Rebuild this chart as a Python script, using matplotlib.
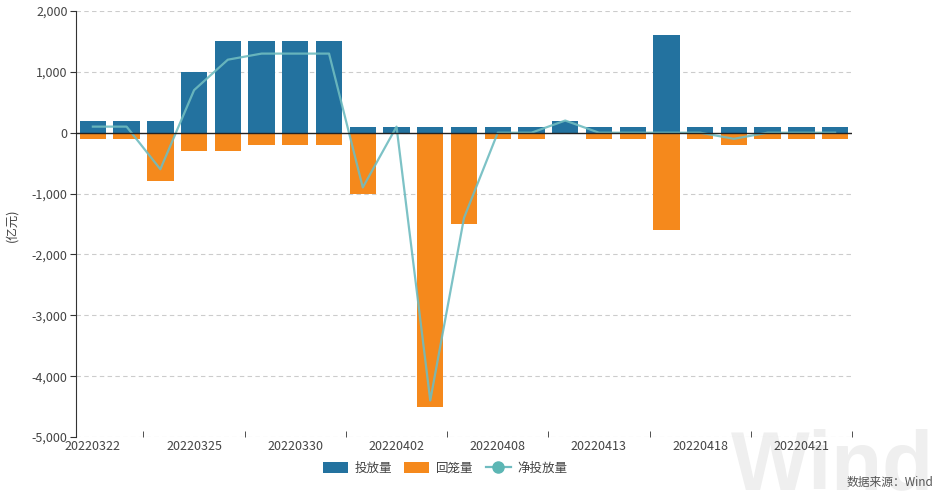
import matplotlib
matplotlib.use("Agg")
import matplotlib.pyplot as plt
import numpy as np
from matplotlib.lines import Line2D
from matplotlib.patches import Patch

plt.rcParams['font.family'] = ['Noto Sans CJK SC', 'DejaVu Sans']

dates = ["20220322", "20220323", "20220324", "20220325", "20220328", "20220329",
         "20220330", "20220331", "20220401", "20220402", "20220406", "20220407",
         "20220408", "20220411", "20220412", "20220413", "20220414", "20220415",
         "20220418", "20220419", "20220420", "20220421", "20220422"]
injection = [200, 200, 200, 1000, 1500, 1500, 1500, 1500, 100, 100, 100, 100,
             100, 100, 200, 100, 100, 1600, 100, 100, 100, 100, 100]
withdrawal = [-100, -100, -800, -300, -300, -200, -200, -200, -1000, 0, -4500, -1500,
              -100, -100, 0, -100, -100, -1600, -100, -200, -100, -100, -100]
net = [100, 100, -600, 700, 1200, 1300, 1300, 1300, -900, 100, -4400, -1400,
       0, 0, 200, 0, 0, 0, 0, -100, 0, 0, 0]

blue = '#23729f'
orange = '#f5891c'
teal = '#6fbcc0'

fig = plt.figure(figsize=(9.4, 4.92), dpi=100)
ax = fig.add_axes([76/940, 1-437/492, (852-76)/940, (437-11)/492])
ax.set_facecolor('none')

# watermark behind everything
fig.text(832/940, 3/492, "Wind", fontsize=60, fontweight='bold',
         color='#efefef', ha='center', va='baseline', zorder=-5,
         family='Liberation Sans')

x = np.arange(len(dates))
ax.bar(x, injection, width=0.78, color=blue, zorder=2)
ax.bar(x, withdrawal, width=0.78, color=orange, zorder=2)
ax.plot(x, net, color=teal, lw=1.6, zorder=3, alpha=0.9)

ax.set_xlim(-0.5, len(dates) - 0.5)
ax.set_ylim(-5000, 2000)
yt = np.arange(-5000, 2001, 1000)
ax.set_yticks(yt)
ax.set_yticklabels([f"{v:,}" for v in yt], fontsize=9, color='#444444')
ax.grid(axis='y', ls=(0, (4, 3)), color='#cccccc', lw=0.8, zorder=0)

ax.set_xticks(x[::3])
ax.set_xticklabels([dates[i] for i in range(0, len(dates), 3)], fontsize=9, color='#444444')
ax.tick_params(axis='x', length=0, pad=2)
ax.set_xticks(np.arange(1.5, len(dates), 3), minor=True)
ax.tick_params(axis='x', which='minor', length=4, direction='in', color='#333333')
ax.tick_params(axis='y', length=4, color='#333333', pad=2)

ax.axhline(0, color='#222222', lw=1, zorder=4)
for s in ['top', 'right', 'bottom']:
    ax.spines[s].set_visible(False)
ax.spines['left'].set_color('#333333')

fig.text(12/940, 1-225/492, "(亿元)", fontsize=9, color='#444444', rotation=90,
         ha='center', va='center')

handles = [Patch(facecolor=blue, edgecolor='none'),
           Patch(facecolor=orange, edgecolor='none'),
           Line2D([0], [0], color=teal, lw=1.6, marker='o', markersize=8,
                  markerfacecolor='#5cb6b4', markeredgecolor='#5cb6b4')]
leg = fig.legend(handles, ["投放量", "回笼量", "净投放量"], loc='center',
                 bbox_to_anchor=(445/940, 1-468/492), ncol=3, frameon=False,
                 fontsize=9, handlelength=2.0, handleheight=1.0, columnspacing=1.0,
                 handletextpad=0.5)
for t in leg.get_texts():
    t.set_color('#444444')

fig.text(933/940, 1-482/492, "数据来源：Wind", fontsize=8.5, color='#555555',
         ha='right', va='center')

fig.savefig("out.png", dpi=100)
